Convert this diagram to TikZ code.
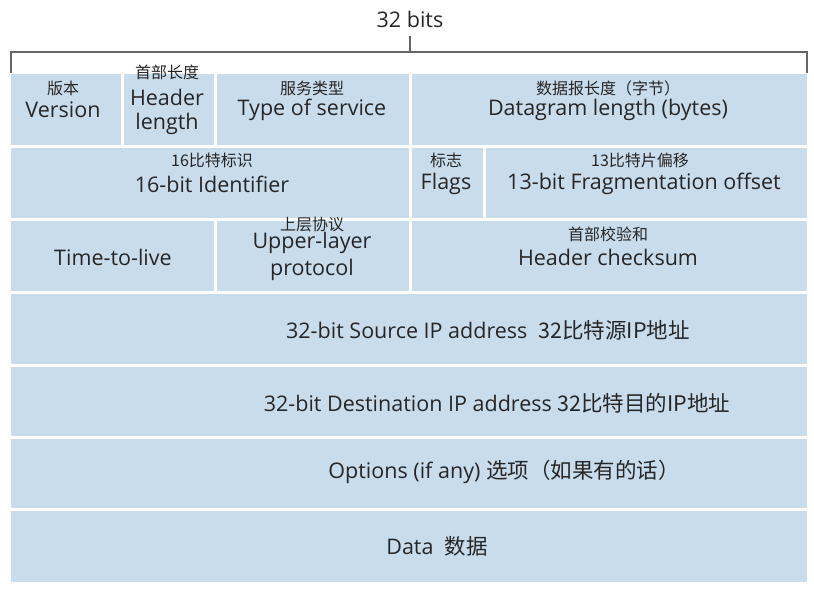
\documentclass[tikz,border=0pt]{standalone}
\usepackage{fontspec}
\setmainfont{Open Sans}
\newfontfamily\cjk{Noto Sans CJK SC}
\begin{document}
\begin{tikzpicture}[x=1pt,y=-1pt,
  lat/.style={font=\fontsize{21.5}{24}\selectfont,text=black!85,inner sep=0pt},
  zh/.style={font=\cjk\fontsize{16}{18}\selectfont,text=black!85,inner sep=0pt}]
\definecolor{cellblue}{HTML}{C9DCEB}
\useasboundingbox (0,0) rectangle (814,594);
\def\cell#1#2#3#4{\fill[cellblue] (#1+1.5,#2+1.5) rectangle (#3-1.5,#4-1.5);}
\cell{9.5}{73}{122}{146}\cell{122}{73}{215}{146}\cell{215}{73}{410}{146}\cell{410}{73}{808.5}{146}
\cell{9.5}{146}{410}{219}\cell{410}{146}{484}{219}\cell{484}{146}{808.5}{219}
\cell{9.5}{219}{215}{292}\cell{215}{219}{410}{292}\cell{410}{219}{808.5}{292}
\cell{9.5}{292}{808.5}{365}\cell{9.5}{365}{808.5}{437}\cell{9.5}{437}{808.5}{509}\cell{9.5}{509}{808.5}{583}
\draw[black!60,line width=1.2] (11,73) -- (11,52) -- (807,52) -- (807,73);
\draw[black!60,line width=1.2] (410,52) -- (410,36);
\node[lat] (t) at (410,19) {32 bits};
\node[zh] (a1) at (63,88) {版本};
\node[lat] (a2) at (63,110) {Version};
\node[zh] (b1) at (167,72) {首部长度};
\node[lat] (b2) at (167,97) {Header};
\node[lat] (b3) at (167,124) {length};
\node[zh] (c1) at (312,88) {服务类型};
\node[lat] (c2) at (312,110) {Type of service};
\node[zh] (d1) at (608,88) {数据报长度（字节）};
\node[lat] (d2) at (608,110) {Datagram length (bytes)};
\node[zh] (e1) at (212,160) {16比特标识};
\node[lat] (e2) at (212,184) {16-bit Identifier};
\node[zh] (f1) at (446,160) {标志};
\node[lat] (f2) at (446,184) {Flags};
\node[zh] (g1) at (640,160) {13比特片偏移};
\node[lat] (g2) at (644,184) {13-bit Fragmentation offset};
\node[lat] (h1) at (113,257) {Time-to-live};
\node[zh] (i1) at (312,224) {上层协议};
\node[lat] (i2) at (312,243) {Upper-layer};
\node[lat] (i3) at (312,270) {protocol};
\node[zh] (j1) at (608,234) {首部校验和};
\node[lat] (j2) at (608,257) {Header checksum};
\node[lat] (k) at (488,330) {32-bit Source IP address\ \ {\cjk 32比特源IP地址}};
\node[lat] (l) at (497,403) {32-bit Destination IP address {\cjk 32比特目的IP地址}};
\node[lat] (m) at (504,472) {Options (if any) {\cjk 选项（如果有的话）}};
\node[lat] (n) at (437,546) {Data\ \ {\cjk 数据}};
\end{tikzpicture}
\end{document}
